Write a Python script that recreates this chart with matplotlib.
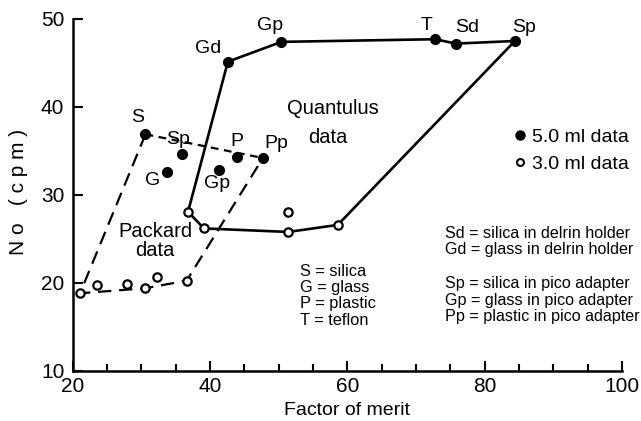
"""Factor of merit vs background count rate (Quantulus / Packard)."""

import matplotlib
matplotlib.use("Agg")
import matplotlib.pyplot as plt
from matplotlib.lines import Line2D

plt.rcParams["font.family"] = ["Liberation Sans", "DejaVu Sans"]

# Quantulus, 5.0 ml vials (filled)
q_full_labels = ["Gd", "Gp", "T", "Sd", "Sp"]
q_full_x = [42.6, 50.4, 72.8, 75.8, 84.4]
q_full_y = [45.15, 47.4, 47.7, 47.2, 47.5]

# Quantulus, 3.0 ml vials (open), in loop order from Sp back to Gd
q_open_x = [58.6, 51.4, 39.1, 36.8]
q_open_y = [26.6, 25.8, 26.2, 28.1]
q_extra_x = [51.4]
q_extra_y = [28.1]

# Packard, 5.0 ml vials (filled)
p_full_labels = ["S", "Sp", "P", "Pp", "G", "Gp"]
p_full_x = [30.6, 35.9, 43.9, 47.7, 33.7, 41.3]
p_full_y = [36.9, 34.7, 34.35, 34.2, 32.6, 32.8]

# Packard, 3.0 ml vials (open)
p_open_x = [21.07, 23.49, 27.95, 30.52, 32.23, 36.59]
p_open_y = [18.83, 19.77, 19.85, 19.40, 20.65, 20.26]

left_notes = ["S = silica", "G = glass", "P = plastic", "T = teflon"]
right_notes = ["Sd = silica in delrin holder", "Gd = glass in delrin holder", "",
               "Sp = silica in pico adapter", "Gp = glass in pico adapter",
               "Pp = plastic in pico adapter"]


def main() -> None:
    fig = plt.figure(figsize=(6.41, 4.21), dpi=100)
    ax = fig.add_axes([0.1134, 0.1188, 0.857, 0.8361])

    ms_full = 7.0
    ms_open = 6.0

    # Quantulus loop (solid)
    loop_x = q_full_x + q_open_x + q_full_x[:1]
    loop_y = q_full_y + q_open_y + q_full_y[:1]
    ax.plot(loop_x, loop_y, color="black", lw=1.9, zorder=2)

    # Packard outline (dashed): S -> open points -> Pp
    out_x = [p_full_x[0], p_open_x[0], p_open_x[3], p_open_x[5], p_full_x[3]]
    out_y = [p_full_y[0], p_open_y[0], p_open_y[3], p_open_y[5], p_full_y[3]]
    ax.plot(out_x, out_y, color="black", lw=1.6, dashes=(6, 3.5), zorder=2)
    ax.plot([p_full_x[0], p_full_x[3]], [p_full_y[0], p_full_y[3]],
            color="black", lw=1.6, dashes=(3.5, 2.5), zorder=2)

    # points
    ax.plot(q_full_x + p_full_x, q_full_y + p_full_y, "o", color="black",
            ms=ms_full, zorder=3)
    ax.plot(q_open_x + q_extra_x + p_open_x, q_open_y + q_extra_y + p_open_y, "o",
            mfc="white", mec="black", mew=1.6, ms=ms_open, zorder=3)

    # point labels
    lab_fs = 14
    q_off = [(-2.9, 1.45), (-1.7, 1.9), (-1.2, 1.6), (1.6, 1.8), (1.4, 1.5)]
    for lab, x, y, (dx, dy) in zip(q_full_labels, q_full_x, q_full_y, q_off):
        ax.text(x + dx, y + dy, lab, fontsize=lab_fs, ha="center", va="center")
    p_off = [(-1.2, 1.85), (-0.6, 1.55), (0.0, 1.7), (2.0, 1.7), (-2.0, -0.9), (-0.3, -1.5)]
    for lab, x, y, (dx, dy) in zip(p_full_labels, p_full_x, p_full_y, p_off):
        ax.text(x + dx, y + dy, lab, fontsize=lab_fs, ha="center", va="center")

    ax.text(57.9, 39.8, "Quantulus", fontsize=14.5, ha="center", va="center")
    ax.text(57.1, 36.55, "data", fontsize=14.5, ha="center", va="center")
    ax.text(32.0, 24.8, "Packard\ndata", fontsize=14.5, ha="center", va="center",
            multialignment="center", linespacing=1.0)

    for i, line in enumerate(left_notes):
        ax.text(53.1, 21.28 - i * 1.83, line, fontsize=11.8, ha="left", va="center")
    for i, line in enumerate(right_notes):
        if line:
            ax.text(74.2, 25.65 - i * 1.9, line, fontsize=11.6, ha="left", va="center")

    handles = [
        Line2D([], [], ls="none", marker="o", color="black", ms=6.5),
        Line2D([], [], ls="none", marker="o", mfc="white", mec="black", mew=1.5, ms=5),
    ]
    ax.legend(handles, ["5.0 ml data", "3.0 ml data"], loc="center left",
              bbox_to_anchor=(0.79, 0.626), frameon=False, fontsize=14,
              handlelength=0.6, handletextpad=0.3, labelspacing=0.48,
              borderaxespad=0)

    ax.set_xlim(20, 100)
    ax.set_ylim(10, 50)
    ax.set_xticks([20, 40, 60, 80, 100])
    ax.set_xticks(range(20, 101, 5), minor=True)
    ax.set_yticks([10, 20, 30, 40, 50])
    ax.tick_params(axis="both", which="major", direction="in", length=7, width=1.5,
                   labelsize=15, pad=4)
    ax.tick_params(axis="y", which="major", pad=6)
    ax.tick_params(axis="x", which="minor", direction="in", length=5, width=1.5)
    ax.spines["top"].set_visible(False)
    ax.spines["right"].set_visible(False)
    ax.spines["left"].set_linewidth(1.8)
    ax.spines["bottom"].set_linewidth(1.8)

    ax.set_xlabel("Factor of merit", fontsize=14, labelpad=5)
    fig.text(19 / 641, 1 - 192 / 421, "N o   ( c p m )", fontsize=15, rotation=90,
             ha="center", va="center")

    fig.savefig("out.png", dpi=100)
    plt.close(fig)


if __name__ == "__main__":
    main()
